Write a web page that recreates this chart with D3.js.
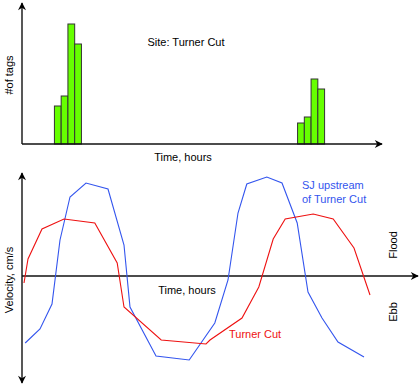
<!DOCTYPE html>
<html lang="en">
  <head>
    <meta charset="utf-8" />
    <title>Turner Cut tags and velocity</title>
    <style>
      body { margin: 0; background: #fff; }
      svg text { font-family: "Liberation Sans", Arial, sans-serif; font-size: 11px; }
    </style>
  </head>
  <body>
    <svg id="chart" width="419" height="387"></svg>
    <script src="https://d3js.org/d3.v7.min.js"></script>
    <script>
      // tag detections, hour bins (start hour) and counts
      var tagHours = [4.8, 5.8, 6.8, 7.8, 40.8, 41.8, 42.8, 43.8];
      var tagCounts = [38, 48, 120, 100, 21, 27, 65, 55];

      // velocity series (hours, relative cm/s)
      var sjHours = [0.4, 2.25, 3.75, 4.75, 6, 8, 10.75, 12.75, 13.5, 16.75, 20.9, 24.1, 25.75, 27, 28.1, 30.6, 32.5, 34.4, 35.75, 37.5, 39.5, 42.75];
      var sjVel = [-67, -53, -28, 36, 79, 93, 87, 31, -31, -80, -84, -47, -4, 63, 92, 99, 93, 53, -16, -42, -66, -81];
      var tcHours = [0.25, 0.75, 2.5, 5.25, 9.1, 11.9, 12.75, 17.4, 23, 23.5, 27.5, 29.6, 31.4, 32.9, 36.4, 38.9, 41.5, 43.5];
      var tcVel = [-7, 17, 47, 57, 53, 13, -31, -64, -68, -64, -42, -11, 37, 57, 62, 57, 28, -19];

      var svg = d3.select("#chart");

      var defs = svg.append("defs");
      defs.append("marker")
        .attr("id", "arrow")
        .attr("viewBox", "0 0 10 10")
        .attr("refX", 9)
        .attr("refY", 5)
        .attr("markerWidth", 10)
        .attr("markerHeight", 8)
        .attr("markerUnits", "userSpaceOnUse")
        .attr("orient", "auto-start-reverse")
        .append("path")
        .attr("d", "M0,0 L10,5 L0,10 L3,5 Z")
        .attr("fill", "#000");

      function axisLine(x1, y1, x2, y2, both) {
        var l = svg.append("line")
          .attr("x1", x1).attr("y1", y1)
          .attr("x2", x2).attr("y2", y2)
          .attr("stroke", "#111")
          .attr("stroke-width", 1.4)
          .attr("marker-end", "url(#arrow)");
        if (both) l.attr("marker-start", "url(#arrow)");
      }

      // ---- top: number of tags ----
      var xTop = d3.scaleLinear().domain([0, 53.3]).range([22, 382]);
      var yTop = d3.scaleLinear().domain([0, 139]).range([144, 5]);
      var barW = xTop(1) - xTop(0);

      svg.append("g")
        .selectAll("rect")
        .data(tagHours)
        .join("rect")
        .attr("x", (d) => xTop(d))
        .attr("y", (d, i) => yTop(tagCounts[i]))
        .attr("width", barW)
        .attr("height", (d, i) => yTop(0) - yTop(tagCounts[i]))
        .attr("fill", "#66ff00")
        .attr("stroke", "#333")
        .attr("stroke-width", 1);

      axisLine(xTop(0), yTop(0), xTop(0), yTop(139) - 2, false);
      axisLine(xTop(0), yTop(0), xTop(53.3), yTop(0), false);

      svg.append("text")
        .attr("transform", "translate(13,75)rotate(-90)")
        .attr("text-anchor", "middle")
        .text("#of tags");
      svg.append("text")
        .attr("x", 186).attr("y", 46)
        .attr("text-anchor", "middle")
        .text("Site: Turner Cut");
      svg.append("text")
        .attr("x", 183).attr("y", 161)
        .attr("text-anchor", "middle")
        .text("Time, hours");

      // ---- bottom: velocity ----
      var xBot = d3.scaleLinear().domain([0, 49.5]).range([22, 418]);
      var yBot = d3.scaleLinear().domain([-107, 103]).range([383, 173]);

      axisLine(xBot(0), yBot(0), xBot(49.5), yBot(0), false);
      axisLine(xBot(0), yBot(-107), xBot(0), yBot(103), true);

      var line = d3.line()
        .x((d) => xBot(d[0]))
        .y((d) => yBot(d[1]));

      svg.append("path")
        .datum(sjHours.map((h, i) => [h, sjVel[i]]))
        .attr("d", line)
        .attr("fill", "none")
        .attr("stroke", "#3355ee")
        .attr("stroke-width", 1.1);

      svg.append("path")
        .datum(tcHours.map((h, i) => [h, tcVel[i]]))
        .attr("d", line)
        .attr("fill", "none")
        .attr("stroke", "#ee1111")
        .attr("stroke-width", 1.1);

      svg.append("text")
        .attr("transform", "translate(13,280)rotate(-90)")
        .attr("text-anchor", "middle")
        .text("Velocity, cm/s");
      svg.append("text")
        .attr("x", 187).attr("y", 294)
        .attr("text-anchor", "middle")
        .text("Time, hours");
      svg.append("text")
        .attr("x", 302).attr("y", 189)
        .attr("fill", "#3355ee")
        .text("SJ upstream");
      svg.append("text")
        .attr("x", 302).attr("y", 203)
        .attr("fill", "#3355ee")
        .text("of Turner Cut");
      svg.append("text")
        .attr("x", 229).attr("y", 338)
        .attr("fill", "#ee1111")
        .text("Turner Cut");
      svg.append("text")
        .attr("transform", "translate(397,245)rotate(-90)")
        .attr("text-anchor", "middle")
        .text("Flood");
      svg.append("text")
        .attr("transform", "translate(397,312)rotate(-90)")
        .attr("text-anchor", "middle")
        .text("Ebb");
    </script>
  </body>
</html>
